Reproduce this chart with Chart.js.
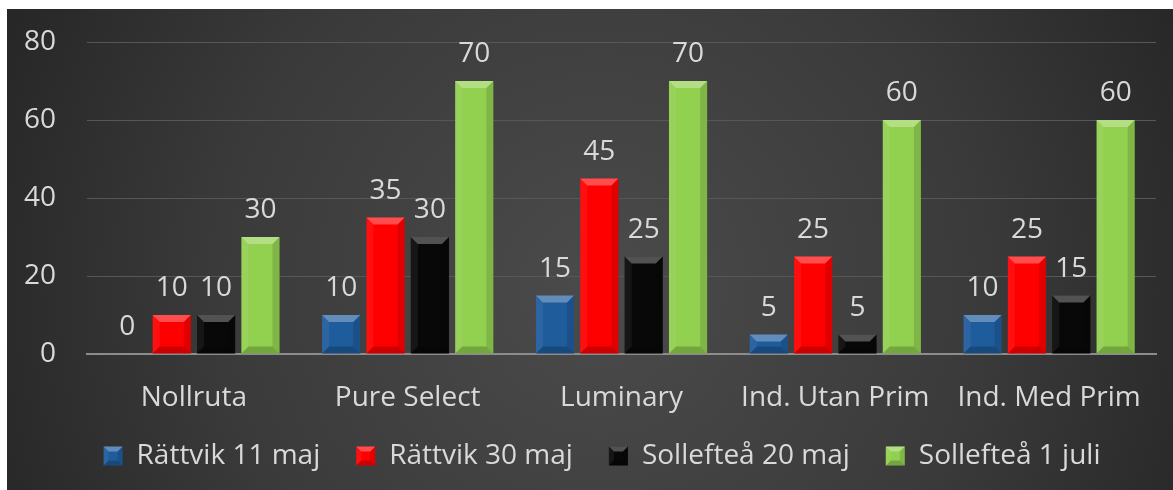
<!DOCTYPE html>
<html><head><meta charset="utf-8">
<script src="https://cdn.jsdelivr.net/npm/chart.js@4/dist/chart.umd.min.js"></script>
<style>html,body{margin:0;padding:0;background:#fff}#wrap{width:1173px;height:490px;position:relative}</style>
</head><body><div id="wrap"><canvas id="c" width="1173" height="490"></canvas></div>
<script>
const categories = ["Nollruta", "Pure Select", "Luminary", "Ind. Utan Prim", "Ind. Med Prim"];
const seriesNames = ["Rättvik 11 maj", "Rättvik 30 maj", "Sollefteå 20 maj", "Sollefteå 1 juli"];
const rattvik11maj = [0, 10, 15, 5, 10];
const rattvik30maj = [10, 35, 45, 25, 25];
const solleftea20maj = [10, 30, 25, 5, 15];
const solleftea1juli = [30, 70, 70, 60, 60];
const yTicks = [0, 20, 40, 60, 80];
const seriesColors = ["#1f5c9c", "#ff0000", "#080808", "#92d050"];

const FONT = "'Open Sans', Lato, sans-serif";
const FS = 28;
const TXT = "#d9d9d9";

const bgPlugin = {
  id: 'bg',
  beforeDraw(chart) {
    const ctx = chart.ctx, w = chart.width, h = chart.height;
    ctx.save();
    ctx.fillStyle = '#ffffff';
    ctx.fillRect(0, 0, w, h);
    const g = ctx.createRadialGradient(600, 290, 0, 600, 290, 700);
    g.addColorStop(0, '#4b4b4b');
    g.addColorStop(0.55, '#3a3a3a');
    g.addColorStop(1, '#232323');
    ctx.fillStyle = g;
    ctx.fillRect(7, 9, w - 7, h - 9);
    ctx.restore();
  }
};

function bevel(ctx, x0, y0, x1, y1, bMax) {
  const b = Math.min(bMax, (x1 - x0) / 2, (y1 - y0) / 2);
  if (b <= 0) return;
  ctx.save();
  ctx.fillStyle = 'rgba(255,255,255,0.3)';
  ctx.beginPath(); ctx.moveTo(x0, y0); ctx.lineTo(x1, y0); ctx.lineTo(x1 - b, y0 + b); ctx.lineTo(x0 + b, y0 + b); ctx.closePath(); ctx.fill();
  ctx.fillStyle = 'rgba(0,0,0,0.2)';
  ctx.beginPath(); ctx.moveTo(x0, y1); ctx.lineTo(x1, y1); ctx.lineTo(x1 - b, y1 - b); ctx.lineTo(x0 + b, y1 - b); ctx.closePath(); ctx.fill();
  ctx.fillStyle = 'rgba(255,255,255,0.06)';
  ctx.beginPath(); ctx.moveTo(x0, y0); ctx.lineTo(x0 + b, y0 + b); ctx.lineTo(x0 + b, y1 - b); ctx.lineTo(x0, y1); ctx.closePath(); ctx.fill();
  ctx.fillStyle = 'rgba(0,0,0,0.12)';
  ctx.beginPath(); ctx.moveTo(x1, y0); ctx.lineTo(x1 - b, y0 + b); ctx.lineTo(x1 - b, y1 - b); ctx.lineTo(x1, y1); ctx.closePath(); ctx.fill();
  ctx.restore();
}

const LEGEND_SHIFT = 24;
const fxPlugin = {
  id: 'fx',
  afterLayout(chart) {
    const lg = chart.legend;
    if (lg) {
      lg.left += LEGEND_SHIFT; lg.right += LEGEND_SHIFT;
      (lg.legendHitBoxes || []).forEach(hb => { hb.left += LEGEND_SHIFT; });
    }
    const xs = chart.scales.x;
    if (xs) xs.bottom += 14;
  },
  afterDatasetsDraw(chart) {
    const ctx = chart.ctx;
    chart.data.datasets.forEach((ds, i) => {
      const meta = chart.getDatasetMeta(i);
      meta.data.forEach((bar, j) => {
        const p = bar.getProps(['x', 'y', 'base', 'width'], true);
        const x0 = p.x - p.width / 2, x1 = p.x + p.width / 2;
        const y0 = Math.min(p.y, p.base), y1 = Math.max(p.y, p.base);
        bevel(ctx, x0, y0, x1, y1, 7);
        ctx.save();
        ctx.fillStyle = TXT;
        ctx.font = FS + "px " + FONT;
        ctx.textAlign = 'center';
        ctx.textBaseline = 'alphabetic';
        ctx.fillText(String(ds.data[j]), p.x, p.y - 19);
        ctx.restore();
      });
    });
  },
  afterDraw(chart) {
    const lg = chart.legend;
    if (!lg || !lg.legendHitBoxes) return;
    const ctx = chart.ctx;
    lg.legendHitBoxes.forEach((hb) => {
      const bw = 19, bh = 19;
      const y = hb.top + (hb.height - bh) / 2;
      bevel(ctx, hb.left, y, hb.left + bw, y + bh, 5);
    });
  }
};

const series = [rattvik11maj, rattvik30maj, solleftea20maj, solleftea1juli];
new Chart(document.getElementById('c'), {
  type: 'bar',
  data: {
    labels: categories,
    datasets: series.map((d, i) => ({
      label: seriesNames[i],
      data: d,
      backgroundColor: seriesColors[i],
      borderWidth: 0,
      categoryPercentage: 0.83,
      barPercentage: 0.86
    }))
  },
  options: {
    responsive: false,
    animation: false,
    devicePixelRatio: 1,
    layout: { padding: { left: 0, right: 17, top: 42, bottom: 10 } },
    plugins: {
      tooltip: { enabled: false },
      legend: {
        position: 'bottom',
        labels: {
          color: TXT,
          font: { size: FS, family: FONT },
          boxWidth: 19, boxHeight: 19,
          padding: 36
        }
      }
    },
    scales: {
      x: {
        afterFit(s) { s.height = 52; s.paddingLeft = 0; s.paddingRight = 0; },
        grid: { display: false, drawTicks: false },
        border: { display: true, color: '#8c8c8c', width: 2 },
        ticks: { color: TXT, font: { size: FS, family: FONT }, padding: 27, maxRotation: 0 }
      },
      y: {
        min: 0, max: 80,
        afterFit(s) { s.width = 87; s.paddingTop = 0; s.paddingBottom = 0; },
        afterBuildTicks(s) { s.ticks = yTicks.map(v => ({ value: v })); },
        grid: { color: '#575757', lineWidth: 1, drawTicks: false },
        border: { display: false },
        ticks: { color: TXT, font: { size: FS, family: FONT }, padding: 31 }
      }
    }
  },
  plugins: [bgPlugin, fxPlugin]
});
</script></body></html>
